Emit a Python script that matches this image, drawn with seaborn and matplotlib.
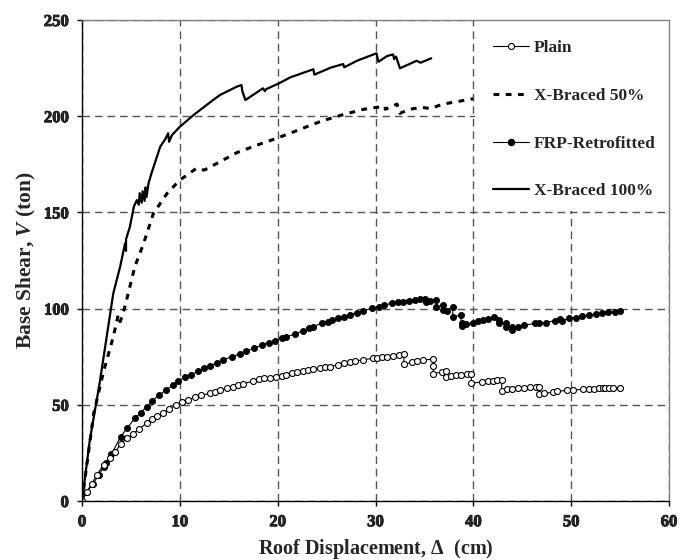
import matplotlib
matplotlib.use("Agg")
import matplotlib.pyplot as plt
import matplotlib.patheffects as pe
from matplotlib.patches import Rectangle
from matplotlib.lines import Line2D
import seaborn as sns

# ---------------- data ----------------
plain_x = [0, 0.5, 1.0, 1.5, 2.2, 2.9, 3.4, 3.95, 4.6, 5.2, 5.8, 6.6, 7.2, 7.7, 8.3, 8.9, 9.6,
           10.2, 10.8, 11.5, 12.2, 13.1, 13.6, 14.1, 14.8, 15.4, 15.9, 16.5, 17.5, 18.1, 18.6,
           19.2, 19.8, 20.4, 20.9, 21.5, 22.0, 22.6, 23.1, 23.6, 24.3, 24.8, 25.3, 26.2, 26.8,
           27.4, 27.9, 28.7, 29.7, 30.2, 30.7, 31.2, 31.8, 32.4, 32.9, 32.9, 33.7, 34.2, 34.9,
           35.9, 35.9, 35.9, 36.8, 37.2, 37.2, 37.7, 38.2, 38.7, 39.4, 39.8, 39.8, 40.9, 41.5,
           42.0, 42.4, 42.9, 42.9, 43.4, 44.0, 44.6, 45.2, 45.8, 46.4, 46.7, 46.7, 47.2, 48.1,
           48.6, 49.6, 50.2, 51.2, 51.8, 52.3, 52.8, 53.3, 53.5, 53.9, 54.3, 55.0]
plain_y = [0, 4.8, 9.0, 13.5, 18.7, 22.2, 25.6, 29.6, 32.6, 34.8, 37.3, 40.4, 42.5, 44.2, 45.9,
           47.8, 49.9, 51.3, 52.5, 53.9, 54.9, 56.0, 56.8, 57.7, 58.6, 59.4, 60.1, 60.8, 62.5,
           63.2, 63.7, 64.0, 64.4, 65.0, 65.5, 66.4, 66.9, 67.6, 68.1, 68.7, 69.2, 69.5, 69.9,
           70.8, 71.6, 72.2, 72.7, 73.4, 74.1, 74.2, 74.6, 75.0, 75.5, 75.8, 76.5, 71.0, 72.1,
           72.6, 73.3, 73.7, 70.2, 66.0, 67.2, 67.6, 64.3, 65.1, 65.5, 65.6, 66.0, 66.0, 61.2,
           61.9, 62.3, 62.6, 63.0, 62.9, 57.2, 58.0, 58.2, 58.6, 58.8, 59.0, 59.4, 59.4, 55.4,
           55.9, 56.5, 57.0, 57.5, 57.7, 58.0, 58.2, 58.4, 58.6, 58.8, 58.8, 58.8, 58.8, 58.9]

frp_x = [0, 0.5, 1.1, 1.7, 2.2, 2.5, 3.0, 3.95, 4.6, 5.4, 6.0, 6.6, 7.2, 7.9, 8.6, 9.3, 9.85,
         10.5, 11.1, 11.9, 12.5, 13.1, 13.8, 14.4, 15.3, 16.1, 16.8, 17.6, 18.4, 19.1, 19.7,
         20.4, 20.9, 21.8, 22.6, 23.2, 23.6, 24.5, 25.1, 25.6, 26.2, 26.8, 27.4, 28.1, 28.7,
         29.6, 30.4, 30.9, 31.7, 32.3, 32.8, 33.4, 34.0, 34.5, 35.1, 35.2, 35.6, 36.2, 36.2,
         36.9, 36.9, 37.3, 37.9, 37.9, 38.7, 38.8, 38.8, 39.3, 40.0, 40.5, 41.0, 41.5, 42.1,
         42.6, 42.6, 43.3, 43.3, 44.0, 44.0, 44.6, 45.2, 46.3, 46.7, 47.4, 48.3, 48.9, 49.1,
         49.8, 50.5, 51.1, 51.8, 52.5, 53.2, 53.8, 54.5, 55.0]
frp_y = [0, 4.8, 8.7, 13.5, 17.5, 19.9, 24.3, 33.4, 37.8, 43.0, 45.9, 49.0, 52.0, 55.1, 57.7,
         60.3, 62.5, 64.3, 65.5, 67.6, 69.0, 70.2, 71.9, 73.3, 75.0, 76.4, 78.1, 79.3, 81.1,
         82.3, 83.2, 84.5, 85.4, 86.8, 88.5, 89.8, 90.6, 92.4, 93.2, 94.1, 95.0, 95.8, 96.7,
         97.9, 98.8, 100.1, 101.0, 101.9, 102.8, 103.3, 103.6, 104.0, 104.5, 104.8, 105.2,
         103.6, 104.1, 104.5, 100.7, 101.9, 99.3, 99.0, 101.0, 95.5, 96.7, 92.3, 90.8, 92.0,
         92.7, 93.6, 94.3, 94.7, 95.5, 94.1, 92.4, 92.7, 90.6, 90.6, 88.9, 90.3, 91.4, 92.3,
         92.7, 92.7, 93.8, 94.4, 93.8, 95.0, 95.3, 96.2, 96.7, 97.1, 97.6, 98.0, 98.3, 98.6]

xb50_x = [0, 1.2, 2.2, 3.2, 3.7, 3.9, 4.2, 4.6, 5.4, 6.3, 7.3, 8.7, 10.0, 11.7, 12.5, 13.8,
          15.8, 17.9, 19.9, 21.4, 22.8, 24.3, 25.9, 27.2, 28.8, 30.1, 31.0, 31.0, 32.2, 32.5,
          33.5, 34.7, 35.6, 36.9, 38.7, 40.0]
xb50_y = [0, 45.6, 67.2, 85.4, 96.7, 93.2, 97.5, 105.4, 121.8, 133.9, 149.5, 159.9, 166.8,
          172.9, 172.0, 175.5, 181.0, 185.0, 188.5, 191.4, 194.2, 197.1, 199.7, 201.5, 203.6,
          204.6, 205.0, 203.6, 206.3, 201.5, 203.6, 204.6, 204.0, 206.3, 207.9, 209.1]

xb100_x = [0, 0.8, 1.8, 3.2, 3.9, 4.4, 4.5, 4.5, 4.9, 5.3, 5.6, 5.8, 5.9, 6.1, 6.2, 6.4, 6.5,
           6.6, 6.8, 7.1, 8.0, 8.5, 8.8, 8.9, 9.2, 10.0, 11.4, 13.4, 14.1, 15.8, 16.3, 16.4,
           16.7, 18.5, 18.7, 18.8, 20.1, 21.3, 23.65, 23.75, 25.4, 26.7, 26.8, 28.1, 30.1,
           30.3, 31.2, 31.8, 31.9, 32.1, 32.5, 34.2, 34.6, 35.7]
xb100_y = [0, 31.7, 61.2, 108.0, 121.8, 133.9, 130.0, 136.0, 142.6, 153.0, 156.4, 154.0,
           160.0, 155.0, 161.0, 156.0, 163.0, 158.0, 165.1, 170.3, 184.2, 188.0, 191.1, 186.7,
           190.2, 194.5, 200.6, 208.4, 211.0, 215.3, 216.2, 212.8, 208.4, 214.5, 213.0, 214.0,
           217.0, 220.2, 224.4, 221.6, 225.2, 227.1, 225.4, 228.8, 232.7, 228.3, 231.3, 232.1,
           229.7, 231.0, 224.9, 228.8, 227.8, 230.1]

labels = ["Plain", "X-Braced 50%", "FRP-Retrofitted", "X-Braced 100%"]
x_ticks = [0, 10, 20, 30, 40, 50, 60]
y_ticks = [0, 50, 100, 150, 200, 250]

# ---------------- style ----------------
sns.set_theme(style="ticks")
plt.rcParams["font.family"] = ["Liberation Serif", "DejaVu Serif"]
plt.rcParams["font.weight"] = "bold"
plt.rcParams["axes.labelweight"] = "bold"
plt.rcParams["mathtext.fontset"] = "custom"
plt.rcParams["mathtext.it"] = "Liberation Serif:italic"
plt.rcParams["mathtext.rm"] = "Liberation Serif:bold"

heavy = [pe.withStroke(linewidth=0.6, foreground="black")]

fig = plt.figure(figsize=(6.9, 5.6), dpi=100)
ax = fig.add_axes([82 / 690, 1 - 501 / 560, (669 - 82) / 690, (501 - 20) / 560])

common = dict(ax=ax, sort=False, estimator=None, color="black", legend=False)
sns.lineplot(x=xb100_x, y=xb100_y, lw=1.6, **common)
sns.lineplot(x=xb50_x, y=xb50_y, lw=2.2, dashes=False, linestyle=(0, (1.9, 2.1)), **common)
sns.lineplot(x=frp_x, y=frp_y, lw=0.8, marker="o", markersize=4.4, markerfacecolor="black",
             markeredgecolor="black", markeredgewidth=0.6, **common)
sns.lineplot(x=plain_x, y=plain_y, lw=0.8, marker="o", markersize=4.3, markerfacecolor="white",
             markeredgecolor="black", markeredgewidth=0.8, **common)

ax.set_xlim(0, 60)
ax.set_ylim(0, 250)
ax.set_xticks(x_ticks, labels=[str(v) for v in x_ticks])
ax.set_yticks(y_ticks, labels=[str(v) for v in y_ticks])
ax.set_axisbelow(True)
ax.grid(True, color="#555555", lw=1.0, linestyle=(0, (5.5, 3.5)))

# white area behind the legend (hides the grid there)
ax.add_patch(Rectangle((40.15, 150.6), 19.85, 99.4, facecolor="white", edgecolor="none",
                       zorder=1))

for s in ["left", "bottom"]:
    ax.spines[s].set_color("black")
    ax.spines[s].set_linewidth(1.0)
for s in ["top", "right"]:
    ax.spines[s].set_visible(True)
    ax.spines[s].set_color("#808080")
    ax.spines[s].set_linewidth(1.0)

ax.tick_params(axis="both", direction="out", length=3.5, width=1, color="black", pad=6,
               labelsize=12)

ax.set_xlabel(r"Roof Displacement, $\mathit{Δ}$  (cm)", fontsize=14.5, fontweight="bold",
              labelpad=5)
ax.set_ylabel(r"Base Shear, $\mathit{V}$ (ton)", fontsize=15.5, fontweight="bold",
              labelpad=4)

handles = [
    Line2D([], [], color="black", lw=0.8, marker="o", markersize=4.3,
           markerfacecolor="white", markeredgecolor="black", markeredgewidth=0.8),
    Line2D([], [], color="black", lw=2.2, linestyle=(0, (1.9, 2.1))),
    Line2D([], [], color="black", lw=0.8, marker="o", markersize=4.4,
           markerfacecolor="black", markeredgecolor="black"),
    Line2D([], [], color="black", lw=1.6),
]
leg = ax.legend(handles, labels, loc="upper left",
                bbox_to_anchor=(493 / 690, 1 - 40 / 560), bbox_transform=fig.transFigure,
                frameon=False, borderpad=0, borderaxespad=0, handlelength=2.1,
                handletextpad=0.25, labelspacing=1.82, numpoints=1,
                prop={"family": "Liberation Serif", "weight": "bold", "size": 12.5})

fig.canvas.draw()
for lab in ax.get_xticklabels() + ax.get_yticklabels():
    lab.set_fontweight("bold")
    lab.set_path_effects(heavy)

fig.savefig("out.png", dpi=100)
